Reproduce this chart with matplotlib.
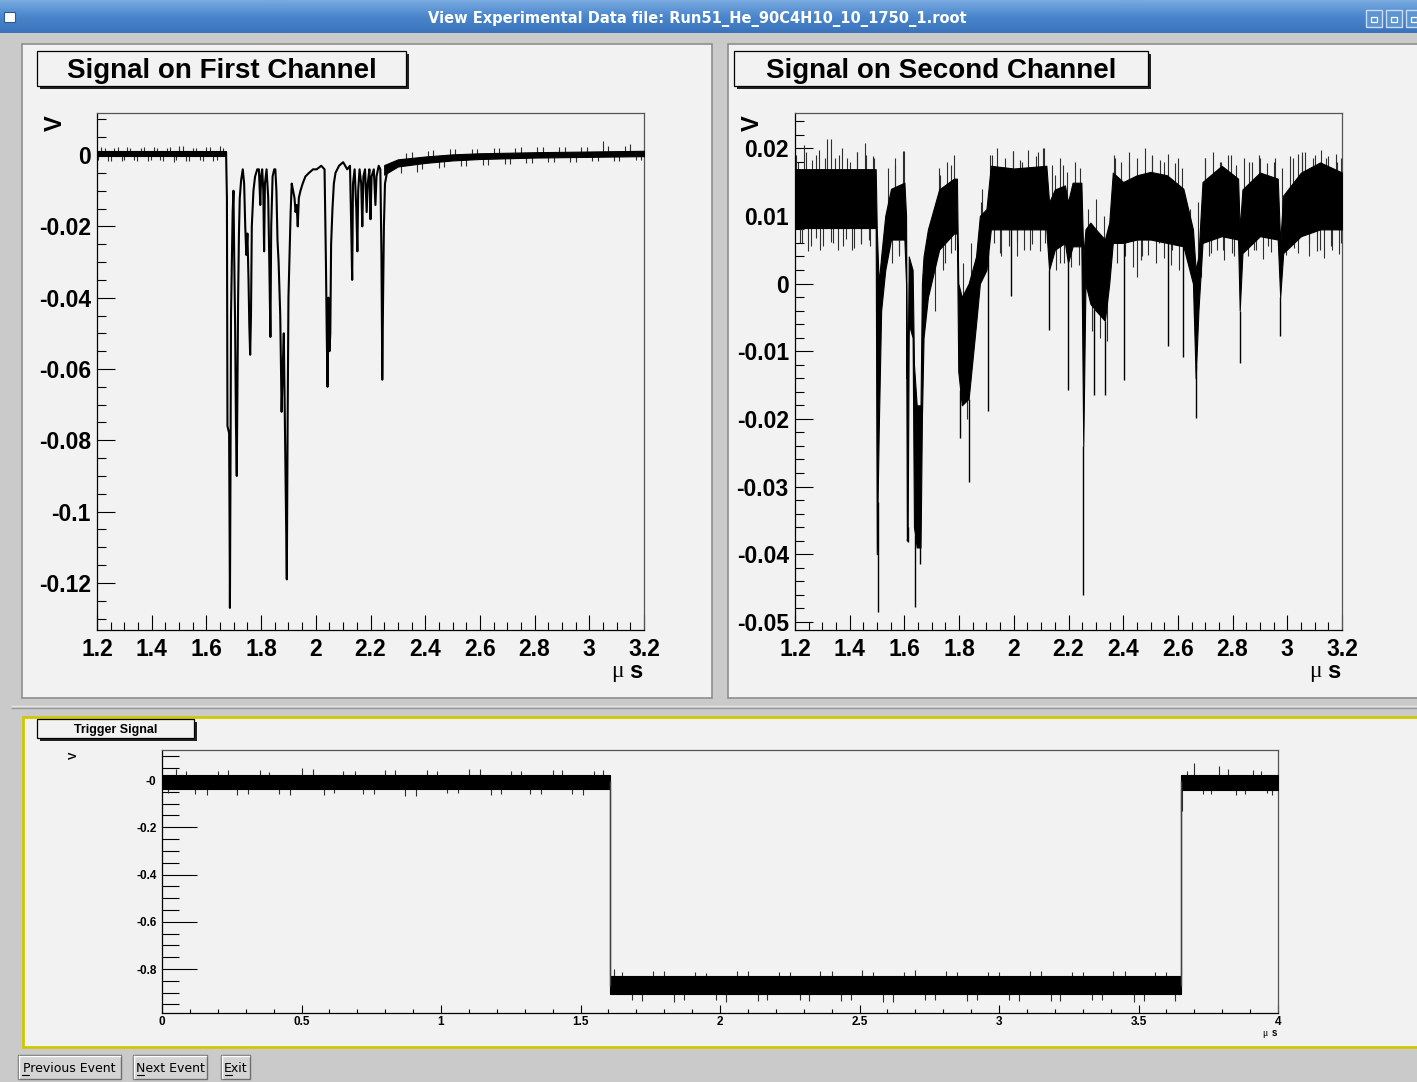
import numpy as np
import matplotlib
matplotlib.use("Agg")
import matplotlib.pyplot as plt
from matplotlib.patches import Rectangle
from matplotlib.ticker import MultipleLocator
from matplotlib.colors import LinearSegmentedColormap

plt.rcParams['font.family'] = ['Liberation Sans', 'DejaVu Sans']
plt.rcParams['axes.unicode_minus'] = False

W, H = 1417, 1082
window_title = "View Experimental Data file: Run51_He_90C4H10_10_1750_1.root"

# ---- first channel: noise band before/after the pulses, pulse train
ch1_base_t = [1.200, 1.672]
ch1_base_lo = [-0.0004, -0.0004]
ch1_base_hi = [0.0012, 0.0012]
ch1_tail_t = [2.250, 2.300, 2.400, 2.500, 2.600, 2.800, 3.000, 3.200]
ch1_tail_lo = [-0.0055, -0.0032, -0.0022, -0.0015, -0.0011, -0.0007, -0.0005, -0.0003]
ch1_tail_hi = [-0.0028, -0.0012, -0.0004, 0.0002, 0.0005, 0.0008, 0.0010, 0.0012]
ch1_pulse_t = [1.672, 1.675, 1.677, 1.683, 1.685, 1.686, 1.688, 1.690, 1.693, 1.696,
               1.699, 1.701, 1.705, 1.708, 1.711, 1.714, 1.716, 1.719, 1.722, 1.727,
               1.733, 1.738, 1.742, 1.746, 1.750, 1.754, 1.757, 1.760, 1.763, 1.766,
               1.772, 1.778, 1.786, 1.792, 1.797, 1.800, 1.804, 1.808, 1.811, 1.814,
               1.820, 1.826, 1.830, 1.834, 1.837, 1.842, 1.848, 1.852, 1.856, 1.860,
               1.864, 1.870, 1.875, 1.879, 1.883, 1.887, 1.891, 1.894, 1.897, 1.900,
               1.904, 1.908, 1.912, 1.917, 1.922, 1.926, 1.930, 1.934, 1.938, 1.944,
               1.952, 1.962, 1.975, 1.990, 2.003, 2.020, 2.032, 2.037, 2.040, 2.043,
               2.046, 2.050, 2.053, 2.056, 2.061, 2.066, 2.072, 2.085, 2.100, 2.115,
               2.125, 2.130, 2.133, 2.136, 2.142, 2.148, 2.152, 2.155, 2.160, 2.166,
               2.170, 2.174, 2.180, 2.186, 2.190, 2.196, 2.200, 2.204, 2.212, 2.218,
               2.222, 2.230, 2.236, 2.240, 2.242, 2.243, 2.246, 2.249, 2.253, 2.260,
               2.270, 2.285, 2.300]
ch1_pulse_v = [0.0005, -0.012, -0.076, -0.078, -0.108, -0.127, -0.090, -0.045, -0.030, -0.016,
               -0.010, -0.024, -0.048, -0.075, -0.090, -0.060, -0.040, -0.022, -0.012, -0.007,
               -0.004, -0.008, -0.020, -0.028, -0.022, -0.035, -0.048, -0.056, -0.045, -0.020,
               -0.010, -0.006, -0.004, -0.004, -0.014, -0.006, -0.004, -0.010, -0.027, -0.008,
               -0.004, -0.012, -0.030, -0.051, -0.020, -0.006, -0.004, -0.004, -0.010, -0.024,
               -0.030, -0.045, -0.072, -0.060, -0.050, -0.075, -0.100, -0.119, -0.075, -0.040,
               -0.028, -0.016, -0.008, -0.010, -0.012, -0.016, -0.014, -0.020, -0.012, -0.010,
               -0.008, -0.006, -0.005, -0.004, -0.004, -0.003, -0.004, -0.030, -0.050, -0.065,
               -0.040, -0.055, -0.050, -0.025, -0.015, -0.008, -0.005, -0.003, -0.002, -0.004,
               -0.003, -0.022, -0.035, -0.008, -0.004, -0.015, -0.027, -0.010, -0.004, -0.008,
               -0.020, -0.006, -0.004, -0.016, -0.008, -0.004, -0.018, -0.006, -0.004, -0.014,
               -0.006, -0.003, -0.004, -0.028, -0.050, -0.063, -0.040, -0.020, -0.008, -0.005,
               -0.004, -0.003, -0.002]
ch1_hair_t = [1.205, 1.215, 1.228, 1.240, 1.250, 1.262, 1.275, 1.290, 1.300, 1.310,
              1.322, 1.335, 1.348, 1.360, 1.372, 1.385, 1.397, 1.410, 1.420, 1.430,
              1.443, 1.455, 1.467, 1.480, 1.490, 1.500, 1.513, 1.525, 1.537, 1.550,
              1.562, 1.575, 1.587, 1.600, 1.612, 1.625, 1.637, 1.650, 1.660,
              2.310, 2.330, 2.350, 2.370, 2.390, 2.410, 2.430, 2.450, 2.470, 2.490,
              2.510, 2.530, 2.550, 2.570, 2.590, 2.610, 2.630, 2.650, 2.670, 2.690,
              2.710, 2.730, 2.750, 2.770, 2.790, 2.810, 2.830, 2.850, 2.870, 2.890,
              2.910, 2.930, 2.950, 2.970, 2.990, 3.010, 3.030, 3.050, 3.070, 3.090,
              3.110, 3.130, 3.150, 3.170, 3.190]
ch1_hair_v = [-0.0014, 0.0022, 0.0020, -0.0016, -0.0017, 0.0020, 0.0023, -0.0018, -0.0013, 0.0024,
              0.0021, -0.0015, -0.0016, 0.0019, 0.0024, -0.0017, -0.0015, 0.0023, 0.0019, -0.0014,
              -0.0018, 0.0021, 0.0022, -0.0019, -0.0014, 0.0025, 0.0025, -0.0016, -0.0017, 0.0020,
              0.0021, -0.0015, -0.0016, 0.0022, 0.0023, -0.0018, -0.0015, 0.0026, 0.0020,
              -0.0050, 0.0005, 0.0008, -0.0048, -0.0040, 0.0012, 0.0013, -0.0035, -0.0034, 0.0016,
              0.0016, -0.0030, -0.0030, 0.0018, 0.0018, -0.0028, -0.0027, 0.0020, 0.0020, -0.0026,
              -0.0024, 0.0021, 0.0022, -0.0022, -0.0022, 0.0022, 0.0023, -0.0020, -0.0020, 0.0024,
              0.0024, -0.0019, -0.0019, 0.0022, 0.0024, -0.0018, -0.0018, 0.0040, 0.0026, -0.0017,
              -0.0016, 0.0026, 0.0030, -0.0014, -0.0014]
ch1_xticks = [1.2, 1.4, 1.6, 1.8, 2.0, 2.2, 2.4, 2.6, 2.8, 3.0, 3.2]
ch1_xlabels = ['1.2', '1.4', '1.6', '1.8', '2', '2.2', '2.4', '2.6', '2.8', '3', '3.2']
ch1_yticks = [0, -0.02, -0.04, -0.06, -0.08, -0.1, -0.12]
ch1_ylabels = ['0', '-0.02', '-0.04', '-0.06', '-0.08', '-0.1', '-0.12']

# ---- second channel: dense noise band (min/max envelope) + single-sample dips
ch2_t = [1.200, 1.495, 1.499, 1.506, 1.515, 1.530, 1.551, 1.600, 1.606, 1.609,
         1.612, 1.616, 1.630, 1.635, 1.645, 1.659, 1.664, 1.670, 1.686, 1.727,
         1.781, 1.792, 1.797, 1.810, 1.835, 1.862, 1.876, 1.900, 1.916, 2.000,
         2.119, 2.129, 2.150, 2.187, 2.198, 2.215, 2.247, 2.254, 2.262, 2.280,
         2.300, 2.333, 2.349, 2.362, 2.400, 2.450, 2.500, 2.560, 2.620, 2.655,
         2.665, 2.675, 2.690, 2.760, 2.820, 2.826, 2.836, 2.900, 2.965, 2.974,
         2.985, 3.050, 3.120, 3.200]
ch2_lo = [0.0082, 0.0082, -0.0400, -0.0220, -0.0040, 0.0020, 0.0065, 0.0065, 0.0000, -0.0380,
          -0.0360, -0.0060, -0.0080, -0.0360, -0.0390, -0.0390, -0.0200, -0.0080, -0.0020, 0.0050,
          0.0074, 0.0074, -0.0130, -0.0180, -0.0170, -0.0060, 0.0000, 0.0020, 0.0080, 0.0080,
          0.0080, 0.0020, 0.0050, 0.0060, 0.0030, 0.0055, 0.0055, -0.0240, 0.0000, -0.0030,
          -0.0040, -0.0055, 0.0000, 0.0060, 0.0060, 0.0065, 0.0065, 0.0060, 0.0055, 0.0000,
          -0.0140, -0.0040, 0.0060, 0.0070, 0.0065, -0.0040, 0.0045, 0.0070, 0.0065, -0.0020,
          0.0045, 0.0070, 0.0080, 0.0080]
ch2_hi = [0.0169, 0.0169, 0.0080, 0.0000, 0.0040, 0.0100, 0.0140, 0.0149, 0.0100, -0.0140,
          -0.0120, 0.0040, 0.0020, -0.0120, -0.0180, -0.0180, 0.0000, 0.0040, 0.0080, 0.0139,
          0.0155, 0.0155, 0.0000, -0.0020, 0.0000, 0.0040, 0.0100, 0.0110, 0.0174, 0.0170,
          0.0174, 0.0120, 0.0139, 0.0145, 0.0120, 0.0149, 0.0149, 0.0040, 0.0080, 0.0090,
          0.0080, 0.0065, 0.0090, 0.0164, 0.0150, 0.0160, 0.0165, 0.0160, 0.0140, 0.0080,
          0.0020, 0.0040, 0.0150, 0.0174, 0.0155, 0.0080, 0.0139, 0.0164, 0.0155, 0.0060,
          0.0130, 0.0164, 0.0179, 0.0164]
ch2_dip_t = [1.502, 1.612, 1.639, 1.657, 1.804, 1.835, 1.907, 1.990, 2.129, 2.198,
             2.254, 2.295, 2.333, 2.403, 2.565, 2.620, 2.667, 2.826, 2.974]
ch2_dip_v = [-0.0485, -0.0382, -0.0478, -0.0414, -0.0229, -0.0293, -0.0189, -0.0019, -0.0068, -0.0157,
             -0.0461, -0.0164, -0.0164, -0.0142, -0.0093, -0.0108, -0.0199, -0.0118, -0.0078]
ch2_hair_t = [1.205, 1.210, 1.218, 1.225, 1.232, 1.240, 1.246, 1.260, 1.262, 1.275,
              1.275, 1.288, 1.290, 1.303, 1.310, 1.318, 1.331, 1.332, 1.340, 1.345,
              1.359, 1.360, 1.372, 1.375, 1.387, 1.390, 1.401, 1.410, 1.414, 1.425,
              1.428, 1.440, 1.442, 1.457, 1.460, 1.470, 1.475, 1.484, 1.490,
              1.540, 1.553, 1.565, 1.566, 1.580, 1.580, 1.594, 1.600,
              1.700, 1.700, 1.713, 1.728, 1.730, 1.742, 1.750, 1.757, 1.770, 1.770,
              1.783, 1.785, 1.815, 1.830, 1.845,
              1.880, 1.885, 1.898, 1.912, 1.920, 1.926, 1.940, 1.950, 1.954, 1.968,
              1.982, 1.996, 1.997, 2.010, 2.010, 2.024, 2.030, 2.038, 2.052, 2.060,
              2.066, 2.080, 2.090, 2.094, 2.108, 2.112, 2.115,
              2.140, 2.150, 2.154, 2.168, 2.170, 2.180, 2.182, 2.196, 2.210, 2.225,
              2.238, 2.241, 2.270, 2.285, 2.300, 2.314, 2.328, 2.340,
              2.365, 2.370, 2.379, 2.393, 2.407, 2.420, 2.421, 2.435, 2.450, 2.450,
              2.464, 2.470, 2.478, 2.492, 2.505, 2.506, 2.520, 2.530, 2.534, 2.548,
              2.550, 2.562, 2.576, 2.580, 2.590, 2.600, 2.603, 2.615,
              2.645, 2.658, 2.672, 2.686,
              2.700, 2.700, 2.714, 2.720, 2.728, 2.742, 2.755, 2.756, 2.765, 2.770,
              2.784, 2.793, 2.798, 2.805, 2.812, 2.842, 2.856, 2.860, 2.870, 2.880,
              2.884, 2.898, 2.900, 2.912, 2.926, 2.930, 2.940, 2.950, 2.954, 2.982,
              2.996, 3.000, 3.010, 3.020, 3.024, 3.038, 3.040, 3.052, 3.052, 3.066,
              3.080, 3.080, 3.094, 3.100, 3.108, 3.120, 3.122, 3.136, 3.140, 3.150,
              3.160, 3.164, 3.178, 3.180, 3.190, 3.195, 3.196]
ch2_hair_v = [0.0190, 0.0180, 0.0060, 0.0060, 0.0205, 0.0195, 0.0048, 0.0055, 0.0182, 0.0190,
              0.0068, 0.0198, 0.0050, 0.0055, 0.0185, 0.0213, 0.0062, 0.0213, 0.0060, 0.0186,
              0.0050, 0.0190, 0.0200, 0.0055, 0.0066, 0.0185, 0.0179, 0.0050, 0.0052, 0.0195,
              0.0195, 0.0060, 0.0058, 0.0208, 0.0190, 0.0064, 0.0055, 0.0188, 0.0185,
              0.0170, 0.0030, 0.0175, 0.0185, 0.0040, 0.0045, 0.0196, 0.0196,
              0.0095, 0.0010, -0.0040, 0.0170, 0.0160, 0.0020, 0.0030, 0.0180, 0.0045, 0.0175,
              0.0190, 0.0050, 0.0030, -0.0200, 0.0060,
              0.0120, 0.0140, 0.0045, 0.0190, 0.0190, 0.0060, 0.0200, 0.0045, 0.0040, 0.0186,
              0.0055, 0.0196, 0.0196, 0.0040, 0.0062, 0.0182, 0.0180, 0.0050, 0.0198, 0.0050,
              0.0058, 0.0188, 0.0195, 0.0048, 0.0200, 0.0200, 0.0060,
              0.0175, 0.0160, 0.0020, 0.0185, 0.0030, 0.0175, 0.0030, 0.0165, 0.0025, 0.0180,
              0.0028, 0.0170, 0.0110, -0.0070, 0.0125, -0.0080, 0.0100, -0.0085,
              0.0190, 0.0185, 0.0030, 0.0180, 0.0040, 0.0180, 0.0195, 0.0025, 0.0010, 0.0185,
              0.0035, 0.0040, 0.0200, 0.0042, 0.0190, 0.0189, 0.0030, 0.0060, 0.0182, 0.0038,
              0.0180, 0.0192, 0.0028, 0.0050, 0.0178, 0.0185, 0.0020, 0.0170,
              0.0110, -0.0050, 0.0120, 0.0010,
              0.0185, 0.0185, 0.0040, 0.0045, 0.0195, 0.0050, 0.0180, 0.0180, 0.0050, 0.0035,
              0.0190, 0.0190, 0.0045, 0.0040, 0.0175, 0.0185, 0.0040, 0.0180, 0.0180, 0.0050,
              0.0050, 0.0190, 0.0185, 0.0036, 0.0178, 0.0055, 0.0046, 0.0180, 0.0186, 0.0170,
              0.0042, 0.0050, 0.0188, 0.0185, 0.0052, 0.0192, 0.0045, 0.0189, 0.0195, 0.0195,
              0.0040, 0.0060, 0.0185, 0.0190, 0.0048, 0.0050, 0.0198, 0.0038, 0.0185, 0.0188,
              0.0055, 0.0050, 0.0192, 0.0180, 0.0044, 0.0060, 0.0185]
ch2_yticks = [0.02, 0.01, 0, -0.01, -0.02, -0.03, -0.04, -0.05]
ch2_ylabels = ['0.02', '0.01', '0', '-0.01', '-0.02', '-0.03', '-0.04', '-0.05']

# ---- trigger: two-level gate (step envelope) with noise
trig_t = [0.000, 1.605, 3.652, 4.000]
trig_lo = [-0.040, -0.905, -0.042, -0.042]
trig_hi = [0.020, -0.828, 0.020, 0.020]
trig_edge_t = [1.605, 3.652]
trig_edge_lo = [-0.870, -0.870]
trig_edge_hi = [-0.005, -0.005]
trig_hair_t = [0.020, 0.050, 0.085, 0.120, 0.160, 0.200, 0.235, 0.270, 0.310, 0.350,
               0.385, 0.420, 0.460, 0.500, 0.540, 0.580, 0.615, 0.650, 0.690, 0.720,
               0.760, 0.800, 0.835, 0.870, 0.910, 0.950, 0.985, 1.020, 1.060, 1.100,
               1.140, 1.180, 1.215, 1.250, 1.285, 1.320, 1.360, 1.400, 1.435, 1.470,
               1.510, 1.550, 1.580,
               1.620, 1.650, 1.685, 1.720, 1.760, 1.800, 1.835, 1.870, 1.910, 1.950,
               1.985, 2.020, 2.060, 2.100, 2.135, 2.170, 2.210, 2.250, 2.285, 2.320,
               2.360, 2.400, 2.435, 2.470, 2.510, 2.550, 2.585, 2.620, 2.660, 2.700,
               2.735, 2.770, 2.810, 2.850, 2.885, 2.920, 2.960, 3.000, 3.035, 3.070,
               3.110, 3.150, 3.185, 3.220, 3.260, 3.300, 3.335, 3.370, 3.410, 3.450,
               3.485, 3.520, 3.560, 3.600, 3.630,
               3.656, 3.675, 3.700, 3.730, 3.760, 3.790, 3.820, 3.850, 3.880, 3.910,
               3.940, 3.960, 3.980]
trig_hair_v = [-0.055, 0.045, 0.038, -0.060, -0.062, 0.040, 0.044, -0.065, -0.058, 0.042,
               0.036, -0.058, -0.064, 0.050, 0.048, -0.062, -0.056, 0.038, 0.040, -0.060,
               -0.060, 0.044, 0.042, -0.066, -0.066, 0.041, 0.039, -0.057, -0.057, 0.046,
               0.045, -0.063, -0.061, 0.039, 0.037, -0.059, -0.059, 0.043, 0.043, -0.061,
               -0.063, 0.040, 0.041,
               -0.800, -0.812, -0.932, -0.935, -0.810, -0.808, -0.938, -0.930, -0.812, -0.815,
               -0.930, -0.940, -0.808, -0.810, -0.936, -0.932, -0.814, -0.814, -0.929, -0.936,
               -0.810, -0.809, -0.934, -0.931, -0.806, -0.812, -0.940, -0.938, -0.811, -0.806,
               -0.931, -0.933, -0.809, -0.813, -0.937, -0.929, -0.813, -0.811, -0.933, -0.934,
               -0.807, -0.807, -0.935, -0.937, -0.812, -0.812, -0.930, -0.930, -0.808, -0.810,
               -0.938, -0.935, -0.811, -0.813, -0.934,
               -0.130, 0.040, 0.070, -0.058, -0.060, 0.060, 0.045, -0.062, -0.058, 0.044,
               0.040, -0.056, -0.062]
trig_xticks = [0, 0.5, 1, 1.5, 2, 2.5, 3, 3.5, 4]
trig_xlabels = ['0', '0.5', '1', '1.5', '2', '2.5', '3', '3.5', '4']
trig_yticks = [0, -0.2, -0.4, -0.6, -0.8]
trig_ylabels = ['-0', '-0.2', '-0.4', '-0.6', '-0.8']

buttons = ['Previous Event', 'Next Event', 'Exit']


def fbox(x0, y0, x1, y1):
    return [x0 / W, 1 - y1 / H, (x1 - x0) / W, (y1 - y0) / H]


fig = plt.figure(figsize=(W / 100, H / 100), dpi=100, facecolor='#cacaca')

# background layer in pixel coordinates
bg = fig.add_axes([0, 0, 1, 1])
bg.axis('off')
grad = np.linspace(0, 1, 32).reshape(-1, 1)
cmap = LinearSegmentedColormap.from_list('bar', ['#79aae0', '#4a86cc', '#3b73bb'])
bg.imshow(grad, extent=(0, W, 33, 0), aspect='auto', cmap=cmap, zorder=0)
bg.set_xlim(0, W)
bg.set_ylim(H, 0)
bg.text(697, 19, window_title, ha='center', va='center', color='white',
        fontsize=10.5, fontweight='bold', family='DejaVu Sans')
bg.add_patch(Rectangle((4, 12), 11, 10, facecolor='white', edgecolor='#2a5a9a', lw=0.8))
for bx in [1366, 1386, 1406]:
    bg.add_patch(Rectangle((bx, 10), 16, 17, facecolor='#5b93d3', edgecolor='#c9dcf2', lw=1))
    bg.add_patch(Rectangle((bx + 5, 17), 6, 5, facecolor='none', edgecolor='white', lw=0.9))

# canvases
canvas = '#f2f2f2'
bg.add_patch(Rectangle((22, 44), 690, 654, facecolor=canvas, edgecolor='#8e8e8e', lw=1.2))
bg.add_patch(Rectangle((728, 44), 700, 654, facecolor=canvas, edgecolor='#8e8e8e', lw=1.2))
bg.add_patch(Rectangle((23, 717), 1400, 330, facecolor=canvas, edgecolor='#cfc800', lw=2))
bg.plot([12, 1417], [706, 706], color='#e6e6e6', lw=1)
bg.plot([12, 1417], [708, 708], color='#9a9a9a', lw=1)


def title_box(x0, y0, x1, y1, text, size, dy):
    bg.add_patch(Rectangle((x0 + 2.5, y0 + 2.5), x1 - x0, y1 - y0, facecolor='#222222', lw=0))
    bg.add_patch(Rectangle((x0, y0), x1 - x0, y1 - y0, facecolor=canvas, edgecolor='black', lw=0.9))
    bg.text((x0 + x1) / 2, (y0 + y1) / 2 + dy, text, ha='center', va='center',
            fontsize=size, fontweight='bold')


title_box(37, 51, 406, 86, 'Signal on First Channel', 20, 3)
title_box(734, 51, 1148, 86, 'Signal on Second Channel', 20, 3)
title_box(37, 719, 194, 738, 'Trigger Signal', 9, 1)

# axis titles (V vertical, microseconds)
bg.text(55, 123, 'V', rotation=90, ha='center', va='center', fontsize=17, fontweight='bold')
bg.text(752, 123, 'V', rotation=90, ha='center', va='center', fontsize=17, fontweight='bold')
bg.text(74, 755, 'V', rotation=90, ha='center', va='center', fontsize=8, fontweight='bold')
for mx in [617, 1315]:
    bg.text(mx, 672, 'μ', ha='center', va='center', fontsize=17, family='Liberation Serif')
    bg.text(mx + 19, 671, 's', ha='center', va='center', fontsize=17, fontweight='bold')
bg.text(1265, 1033, 'μ', ha='center', va='center', fontsize=7, family='Liberation Serif')
bg.text(1274, 1033, 's', ha='center', va='center', fontsize=7, fontweight='bold')

# bottom buttons
bx0 = [18, 133, 221]
bx1 = [121, 207, 250]
for x0, x1, label in zip(bx0, bx1, buttons):
    bg.add_patch(Rectangle((x0, 1055), x1 - x0, 24, facecolor='#d4d4d4', edgecolor='#6e6e6e', lw=1))
    bg.plot([x0 + 1, x1 - 1], [1056, 1056], color='white', lw=1)
    bg.plot([x0 + 1, x0 + 1], [1056, 1078], color='white', lw=1)
    bg.text((x0 + x1) / 2, 1068, label, ha='center', va='center', fontsize=9,
            family='DejaVu Sans', color='black')
    bg.plot([x0 + 4, x0 + 11], [1075, 1075], color='black', lw=0.8)


def style_axes(ax, x_len, y_len, pad_x, pad_y):
    ax.set_facecolor(canvas)
    for s in ax.spines.values():
        s.set_linewidth(0.9)
        s.set_color('black')
    ax.spines['top'].set_color('#555555')
    ax.spines['right'].set_color('#555555')
    ax.tick_params(which='both', direction='in', top=False, right=False, width=0.8)
    ax.tick_params(axis='x', which='major', length=x_len, pad=pad_x)
    ax.tick_params(axis='x', which='minor', length=x_len / 2)
    ax.tick_params(axis='y', which='major', length=y_len, pad=pad_y)
    ax.tick_params(axis='y', which='minor', length=y_len / 2)


def band(ax, t, lo, hi, step=None):
    ax.fill_between(t, lo, hi, color='black', lw=0.8, step=step, zorder=3)


def hairs(ax, t, v, base):
    ax.vlines(t, base, v, colors='#2e2e2e', lw=0.8, zorder=2)


# ---- first channel
ax1 = fig.add_axes(fbox(97, 113, 644, 630))
style_axes(ax1, 11, 13, 6, 4.5)
ax1.set_xlim(1.2, 3.2)
ax1.set_ylim(-0.1332, 0.0118)
ch1_mid_t = ch1_base_t + ch1_tail_t
ch1_mid_v = [(a + b) / 2 for a, b in zip(ch1_base_lo + ch1_tail_lo, ch1_base_hi + ch1_tail_hi)]
hairs(ax1, ch1_hair_t, ch1_hair_v, np.interp(ch1_hair_t, ch1_mid_t, ch1_mid_v))
band(ax1, ch1_base_t, ch1_base_lo, ch1_base_hi)
band(ax1, ch1_tail_t, ch1_tail_lo, ch1_tail_hi)
ax1.plot(ch1_pulse_t, ch1_pulse_v, color='black', lw=1.5, zorder=3)
ax1.set_xticks(ch1_xticks, ch1_xlabels, fontsize=16.5, fontweight='bold')
ax1.set_yticks(ch1_yticks, ch1_ylabels, fontsize=16.5, fontweight='bold')
ax1.xaxis.set_minor_locator(MultipleLocator(0.05))
ax1.yaxis.set_minor_locator(MultipleLocator(0.005))

# ---- second channel
ax2 = fig.add_axes(fbox(795, 113, 1342, 630))
style_axes(ax2, 11, 13, 6, 4.5)
ax2.set_xlim(1.2, 3.2)
ax2.set_ylim(-0.0512, 0.0252)
ch2_mid = [(a + b) / 2 for a, b in zip(ch2_lo, ch2_hi)]
hairs(ax2, ch2_hair_t, ch2_hair_v, np.interp(ch2_hair_t, ch2_t, ch2_mid))
band(ax2, ch2_t, ch2_lo, ch2_hi)
ax2.vlines(ch2_dip_t, np.interp(ch2_dip_t, ch2_t, ch2_lo), ch2_dip_v,
           colors='black', lw=1.0, zorder=3)
ax2.set_xticks(ch1_xticks, ch1_xlabels, fontsize=16.5, fontweight='bold')
ax2.set_yticks(ch2_yticks, ch2_ylabels, fontsize=16.5, fontweight='bold')
ax2.xaxis.set_minor_locator(MultipleLocator(0.05))
ax2.yaxis.set_minor_locator(MultipleLocator(0.002))

# ---- trigger
ax3 = fig.add_axes(fbox(162, 750, 1278, 1013))
style_axes(ax3, 6, 25, 2, 4)
ax3.set_xlim(0, 4)
ax3.set_ylim(-0.986, 0.127)
trig_mid = [(a + b) / 2 for a, b in zip(trig_lo, trig_hi)]
seg = np.searchsorted(trig_t, trig_hair_t, side='right') - 1
hairs(ax3, trig_hair_t, trig_hair_v, np.array(trig_mid)[seg])
band(ax3, trig_t, trig_lo, trig_hi, step='post')
ax3.vlines(trig_edge_t, trig_edge_lo, trig_edge_hi, colors='#444444', lw=1.0, zorder=3)
ax3.set_xticks(trig_xticks, trig_xlabels, fontsize=8.5, fontweight='bold')
ax3.set_yticks(trig_yticks, trig_ylabels, fontsize=8.5, fontweight='bold')
ax3.xaxis.set_minor_locator(MultipleLocator(0.1))
ax3.yaxis.set_minor_locator(MultipleLocator(0.05))

fig.savefig('out.png', dpi=100, facecolor=fig.get_facecolor())
